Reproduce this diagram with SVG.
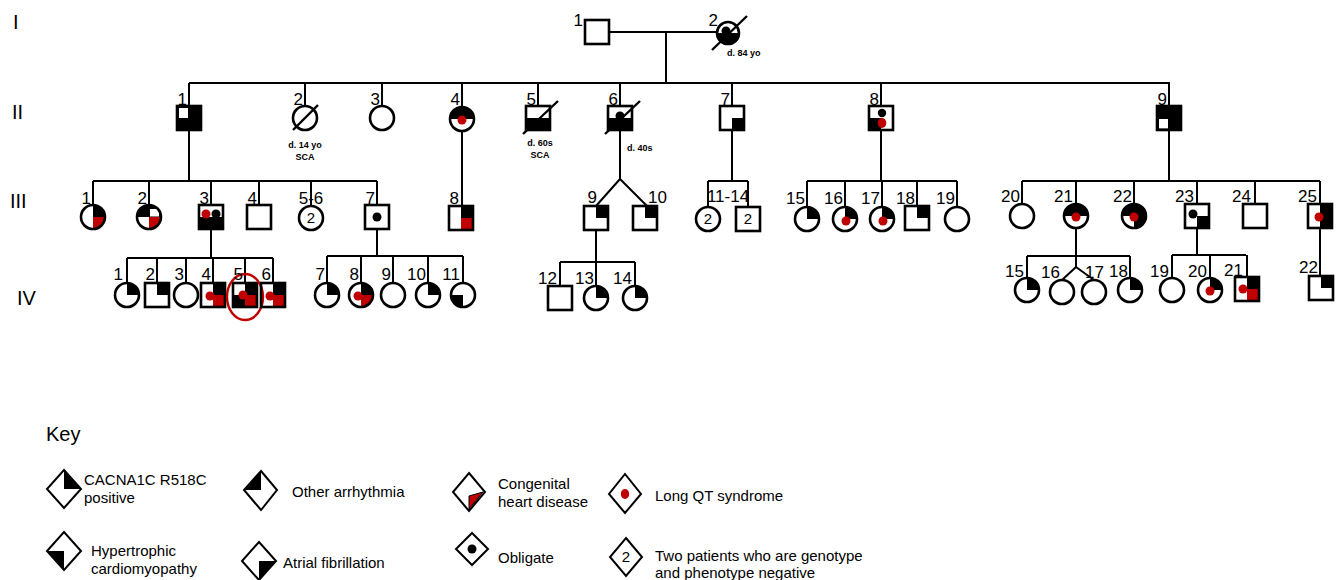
<svg xmlns="http://www.w3.org/2000/svg" xmlns:xlink="http://www.w3.org/1999/xlink" width="1343" height="580" viewBox="0 0 1343 580">
<style>
.o{fill:none;stroke:#000;stroke-width:2.6}
.k{fill:#000}
.r{fill:#c00000}
.w{fill:#fff}
.ln{stroke:#000;stroke-width:2;fill:none}
.lb{font-family:"Liberation Sans",Arial,sans-serif;font-size:17px;text-anchor:end;fill:#000}
.in{font-family:"Liberation Sans",Arial,sans-serif;font-size:15px;text-anchor:middle;fill:#000}
.gen{font-family:"Liberation Sans",Arial,sans-serif;font-size:20px;fill:#000}
.d{font-family:"Liberation Sans",Arial,sans-serif;font-size:9px;font-weight:bold;fill:#000}
.kt{font-family:"Liberation Sans",Arial,sans-serif;font-size:15px;fill:#000}
.sl{stroke:#000;stroke-width:2.4}
.dia{fill:#fff;stroke:#000;stroke-width:2}
</style>
<defs>
<circle id="circ" r="12" class="o"/>
<rect id="sq" x="-12" y="-12" width="24" height="24" class="o"/>
<path id="cUR" d="M0,0V-12A12,12 0 0 1 12,0Z"/>
<path id="cLR" d="M0,0H12A12,12 0 0 1 0,12Z"/>
<path id="cLL" d="M0,0V12A12,12 0 0 1 -12,0Z"/>
<path id="cUL" d="M0,0H-12A12,12 0 0 1 0,-12Z"/>
<path id="cTop" d="M-12,0A12,12 0 0 1 12,0Z"/>
<path id="cBot" d="M12,0A12,12 0 0 1 -12,0Z"/>
<rect id="sUR" x="0" y="-12" width="12" height="12"/>
<rect id="sLR" x="0" y="0" width="12" height="12"/>
<rect id="sLL" x="-12" y="0" width="12" height="12"/>
<rect id="sUL" x="-12" y="-12" width="12" height="12"/>
<rect id="sBot" x="-12" y="0" width="24" height="12"/>
<rect id="sRight" x="0" y="-12" width="12" height="24"/>
<rect id="sFull" x="-12" y="-12" width="24" height="24"/>
<circle id="dot" r="4.5"/>
</defs>

<g id="generations">
<text class="gen" x="13" y="29">I</text>
<text class="gen" x="12" y="119">II</text>
<text class="gen" x="10" y="208">III</text>
<text class="gen" x="17" y="305">IV</text>
</g>

<g id="connectors" class="ln">
<path d="M609,32H717M666,32V83M189,83H1170"/>
<path d="M189,83V106M305,83V106M382,83V106M462,83V107M538,83V106M620,83V106M732,83V106M881,83V106M1169,83V106"/>
<path d="M189,130V181M93,181H377M93,181V205M149,181V205M211,181V205M259,181V205M311,181V206M377,181V205"/>
<path d="M462,131V206"/>
<path d="M620,130V179L596,206M620,179L647,206"/>
<path d="M732,130V181M708,181H748M708,181V207M748,181V207"/>
<path d="M881,130V181M807,181H957M807,181V207M845,181V207M882,181V207M917,181V206M957,181V207"/>
<path d="M1169,130V181M1022,181H1320M1022,181V204M1076,181V204M1134,181V204M1197,181V204M1255,181V204M1320,181V204"/>
<path d="M211,229V258M127,258H273M127,258V283M157,258V283M186,258V283M213,258V283M245,258V283M273,258V283"/>
<path d="M377,229V256M327,256H463M327,256V283M361,256V283M393,256V283M428,256V283M463,256V283"/>
<path d="M596,230V262M560,262H635M560,262V286M596,262V286M635,262V286"/>
<path d="M1076,228V267L1062,280M1076,267L1094,280M1027,256H1130M1027,256V278M1130,256V278"/>
<path d="M1197,228V255M1172,255H1246M1172,255V278M1210,255V278M1247,255V277"/>
<path d="M1320,228V276"/>
</g>

<!-- Generation I -->
<g id="I-1" transform="translate(597,32)"><use href="#sq"/><text class="lb" x="-14" y="-6">1</text></g>
<g id="I-2" transform="translate(728,33)"><use href="#cBot" class="k"/><use href="#dot" class="k" x="-2" y="-2"/><circle r="11" class="o"/><line class="sl" x1="-16" y1="17" x2="19" y2="-17"/><text class="lb" x="-10" y="-7">2</text><text class="d" x="-1" y="23">d. 84 yo</text></g>

<!-- Generation II -->
<g id="II-1" transform="translate(189,118)"><use href="#sFull" class="k"/><rect x="-10" y="-10" width="9" height="10" class="w"/><use href="#sq"/><text class="lb" x="-2" y="-13">1</text></g>
<g id="II-2" transform="translate(305,118)"><use href="#circ"/><line class="sl" x1="-12" y1="12" x2="13" y2="-13"/><text class="lb" x="-2" y="-13">2</text><text class="d" x="0" y="30" text-anchor="middle">d. 14 yo</text><text class="d" x="0" y="42" text-anchor="middle">SCA</text></g>
<g id="II-3" transform="translate(382,118)"><use href="#circ"/><text class="lb" x="-2" y="-13">3</text></g>
<g id="II-4" transform="translate(462,119)"><use href="#cTop" class="k"/><use href="#dot" class="r" y="1"/><use href="#circ"/><text class="lb" x="-2" y="-14">4</text></g>
<g id="II-5" transform="translate(538,118)"><use href="#sBot" class="k"/><use href="#sq"/><line class="sl" x1="-15" y1="16" x2="20" y2="-17"/><text class="lb" x="-2" y="-13">5</text><text class="d" x="2" y="28" text-anchor="middle">d. 60s</text><text class="d" x="2" y="40" text-anchor="middle">SCA</text></g>
<g id="II-6" transform="translate(620,118)"><use href="#sBot" class="k"/><use href="#dot" class="k" y="-2"/><use href="#sq"/><line class="sl" x1="-15" y1="16" x2="20" y2="-17"/><text class="lb" x="-2" y="-13">6</text><text class="d" x="7" y="33">d. 40s</text></g>
<g id="II-7" transform="translate(732,118)"><use href="#sLR" class="k"/><use href="#sq"/><text class="lb" x="-2" y="-13">7</text></g>
<g id="II-8" transform="translate(881,118)"><use href="#sLL" class="k"/><circle cx="1" cy="-5" r="4.2" class="k"/><ellipse cx="1" cy="5" rx="4.3" ry="5" class="r"/><use href="#sq"/><text class="lb" x="-2" y="-13">8</text></g>
<g id="II-9" transform="translate(1169,118)"><use href="#sFull" class="k"/><rect x="-10" y="1" width="9" height="9.5" class="w"/><use href="#sq"/><text class="lb" x="-2" y="-13">9</text></g>

<!-- Generation III -->
<g id="III-1" transform="translate(93,217)"><use href="#cUR" class="k"/><use href="#cLR" class="r"/><use href="#circ"/><text class="lb" x="-2" y="-13">1</text></g>
<g id="III-2" transform="translate(149,217)"><use href="#cUL" class="k"/><use href="#cUR" class="k"/><rect x="1" y="-8" width="9" height="7.5" class="w"/><use href="#cLR" class="r"/><use href="#circ"/><text class="lb" x="-2" y="-13">2</text></g>
<g id="III-3" transform="translate(211,217)"><use href="#sBot" class="k"/><use href="#dot" class="r" x="-5" y="-3"/><use href="#dot" class="k" x="5" y="-3"/><use href="#sq"/><text class="lb" x="-2" y="-13">3</text></g>
<g id="III-4" transform="translate(259,217)"><use href="#sq"/><text class="lb" x="-2" y="-13">4</text></g>
<g id="III-5-6" transform="translate(311,218)"><use href="#circ"/><text class="in" x="0" y="5">2</text><text class="lb" x="0" y="-14" text-anchor="middle" style="text-anchor:middle">5-6</text></g>
<g id="III-7" transform="translate(377,217)"><use href="#dot" class="k"/><use href="#sq"/><text class="lb" x="-2" y="-13">7</text></g>
<g id="III-8" transform="translate(461,218)"><use href="#sUR" class="k"/><use href="#sLR" class="r"/><use href="#sq"/><text class="lb" x="-2" y="-14">8</text></g>
<g id="III-9" transform="translate(596,218)"><use href="#sUR" class="k"/><use href="#sq"/><text class="lb" x="1" y="-15">9</text></g>
<g id="III-10" transform="translate(645,218)"><use href="#sUR" class="k"/><use href="#sq"/><text class="lb" x="3" y="-15" style="text-anchor:start">10</text></g>
<g id="III-11-14"><g transform="translate(708,219)"><use href="#circ"/><text class="in" x="0" y="5">2</text></g><g transform="translate(748,219)"><use href="#sq"/><text class="in" x="0" y="5">2</text></g><text class="lb" x="728" y="202" style="text-anchor:middle">11-14</text></g>
<g id="III-15" transform="translate(807,219)"><use href="#cUR" class="k"/><use href="#circ"/><text class="lb" x="-2" y="-15">15</text></g>
<g id="III-16" transform="translate(845,219)"><use href="#cUR" class="k"/><use href="#dot" class="r" x="1" y="2"/><use href="#circ"/><text class="lb" x="-2" y="-15">16</text></g>
<g id="III-17" transform="translate(882,219)"><use href="#cUR" class="k"/><use href="#dot" class="r" x="1" y="2"/><use href="#circ"/><text class="lb" x="-2" y="-15">17</text></g>
<g id="III-18" transform="translate(917,218)"><use href="#sUR" class="k"/><use href="#sq"/><text class="lb" x="-2" y="-14">18</text></g>
<g id="III-19" transform="translate(957,219)"><use href="#circ"/><text class="lb" x="-2" y="-15">19</text></g>
<g id="III-20" transform="translate(1022,216)"><use href="#circ"/><text class="lb" x="-2" y="-14">20</text></g>
<g id="III-21" transform="translate(1076,216)"><use href="#cTop" class="k"/><use href="#dot" class="r" y="1"/><use href="#circ"/><text class="lb" x="-3" y="-14">21</text></g>
<g id="III-22" transform="translate(1134,216)"><use href="#cUL" class="k"/><use href="#cUR" class="k"/><use href="#cLR" class="k"/><use href="#dot" class="r" y="1"/><use href="#circ"/><text class="lb" x="-2" y="-14">22</text></g>
<g id="III-23" transform="translate(1197,216)"><use href="#sLR" class="k"/><use href="#dot" class="k" x="-4" y="-2"/><use href="#sq"/><text class="lb" x="-3" y="-14">23</text></g>
<g id="III-24" transform="translate(1255,216)"><use href="#sq"/><text class="lb" x="-4" y="-14">24</text></g>
<g id="III-25" transform="translate(1320,216)"><use href="#sRight" class="k"/><use href="#dot" class="r" x="-1" y="1"/><use href="#sq"/><text class="lb" x="-3" y="-14">25</text></g>

<!-- Generation IV -->
<g id="IV-1" transform="translate(127,295)"><use href="#cUR" class="k"/><use href="#circ"/><text class="lb" x="-4" y="-15">1</text></g>
<g id="IV-2" transform="translate(157,295)"><use href="#sUR" class="k"/><use href="#sq"/><text class="lb" x="-2" y="-15">2</text></g>
<g id="IV-3" transform="translate(186,295)"><use href="#circ"/><text class="lb" x="-2" y="-15">3</text></g>
<g id="IV-4" transform="translate(213,295)"><use href="#sUR" class="k"/><use href="#sLR" class="r"/><use href="#dot" class="r" x="-3" y="1"/><use href="#sq"/><text class="lb" x="-2" y="-15">4</text></g>
<g id="IV-5" transform="translate(245,295)"><use href="#sUR" class="k"/><use href="#sLL" class="k"/><use href="#sLR" class="r"/><use href="#dot" class="r" x="-2" y="0"/><use href="#sq"/><ellipse cx="0" cy="2" rx="18" ry="23" fill="none" stroke="#c00000" stroke-width="2.4"/><text class="lb" x="-2" y="-15">5</text></g>
<g id="IV-6" transform="translate(273,295)"><use href="#sUR" class="k"/><use href="#sLR" class="r"/><use href="#dot" class="r" x="-3" y="1"/><use href="#sq"/><text class="lb" x="-2" y="-15">6</text></g>
<g id="IV-7" transform="translate(327,295)"><use href="#cUR" class="k"/><use href="#circ"/><text class="lb" x="-2" y="-15">7</text></g>
<g id="IV-8" transform="translate(361,295)"><use href="#cUR" class="k"/><use href="#cLR" class="r"/><use href="#dot" class="r" x="-3" y="1"/><use href="#circ"/><text class="lb" x="-2" y="-15">8</text></g>
<g id="IV-9" transform="translate(393,295)"><use href="#circ"/><text class="lb" x="-2" y="-15">9</text></g>
<g id="IV-10" transform="translate(428,295)"><use href="#cUR" class="k"/><use href="#circ"/><text class="lb" x="-2" y="-15">10</text></g>
<g id="IV-11" transform="translate(463,295)"><use href="#cLL" class="k"/><use href="#circ"/><text class="lb" x="-3" y="-15">11</text></g>
<g id="IV-12" transform="translate(560,298)"><use href="#sq"/><text class="lb" x="-3" y="-14">12</text></g>
<g id="IV-13" transform="translate(596,298)"><use href="#cUR" class="k"/><use href="#circ"/><text class="lb" x="-2" y="-14">13</text></g>
<g id="IV-14" transform="translate(635,298)"><use href="#cUR" class="k"/><use href="#circ"/><text class="lb" x="-3" y="-14">14</text></g>
<g id="IV-15" transform="translate(1027,290)"><use href="#cUR" class="k"/><use href="#circ"/><text class="lb" x="-3" y="-13">15</text></g>
<g id="IV-16" transform="translate(1062,292)"><use href="#circ"/><text class="lb" x="-2" y="-14">16</text></g>
<g id="IV-17" transform="translate(1094,292)"><use href="#circ"/><text class="lb" x="-9" y="-14" style="text-anchor:start">17</text></g>
<g id="IV-18" transform="translate(1130,290)"><use href="#cUR" class="k"/><use href="#circ"/><text class="lb" x="-2" y="-13">18</text></g>
<g id="IV-19" transform="translate(1172,290)"><use href="#circ"/><text class="lb" x="-3" y="-13">19</text></g>
<g id="IV-20" transform="translate(1210,290)"><use href="#cUR" class="k"/><use href="#dot" class="r" y="1"/><use href="#circ"/><text class="lb" x="-3" y="-13">20</text></g>
<g id="IV-21" transform="translate(1247,289)"><use href="#sUR" class="k"/><use href="#sLR" class="r"/><use href="#dot" class="r" x="-4" y="0"/><use href="#sq"/><text class="lb" x="-4" y="-13">21</text></g>
<g id="IV-22" transform="translate(1321,288)"><use href="#sUR" class="k"/><use href="#sq"/><text class="lb" x="-3" y="-15">22</text></g>

<!-- Key -->
<g id="key">
<text class="gen" x="46" y="441">Key</text>
<g id="key-cacna1c"><polygon class="dia" points="64,470 81,489 64,508 47,489"/><polygon class="k" points="64,470 81,489 64,489"/><text class="kt" x="84" y="485">CACNA1C R518C</text><text class="kt" x="84" y="503">positive</text></g>
<g id="key-arrhythmia"><polygon class="dia" points="261,471 277,490 261,510 244,490"/><polygon class="k" points="261,471 261,490 244,490"/><text class="kt" x="292" y="497">Other arrhythmia</text></g>
<g id="key-chd"><polygon class="dia" points="469,473 485,492 469,511 453,492"/><polygon class="r" stroke="#000" stroke-width="1" points="469,496 483,492 469,509"/><text class="kt" x="498" y="489">Congenital</text><text class="kt" x="498" y="507">heart disease</text></g>
<g id="key-lqt"><polygon class="dia" points="625,474 641,494 625,513 609,494"/><ellipse cx="625" cy="494" rx="4.2" ry="5" class="r"/><text class="kt" x="655" y="501">Long QT syndrome</text></g>
<g id="key-hcm"><polygon class="dia" points="64,532 81,551 64,570 47,551"/><polygon class="k" points="47,551 64,551 64,570"/><text class="kt" x="91" y="556">Hypertrophic</text><text class="kt" x="91" y="574">cardiomyopathy</text></g>
<g id="key-af"><polygon class="dia" points="259,542 276,561 259,580 242,561"/><polygon class="k" points="259,561 276,561 259,580"/><text class="kt" x="283" y="568">Atrial fibrillation</text></g>
<g id="key-obligate"><polygon class="dia" points="472,533 488,549 472,565 456,549"/><circle cx="472" cy="549" r="4.5" class="k"/><text class="kt" x="498" y="563">Obligate</text></g>
<g id="key-two"><polygon class="dia" points="626,538 642,557 626,576 610,557"/><text class="in" x="626" y="562">2</text><text class="kt" x="655" y="561">Two patients who are genotype</text><text class="kt" x="655" y="578">and phenotype negative</text></g>
</g>
</svg>
